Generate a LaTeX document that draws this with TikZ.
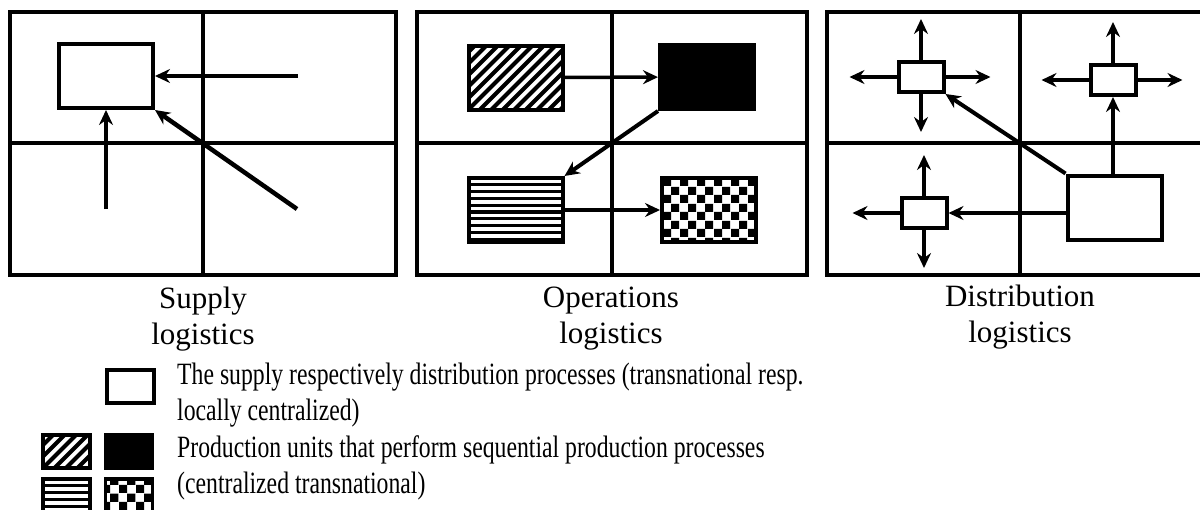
\documentclass[tikz,border=0pt]{standalone}
\usepackage{fontspec}
\setmainfont{Liberation Serif}
\newfontfamily\keyfont[FakeStretch=0.765]{Liberation Serif}
\usetikzlibrary{arrows.meta,positioning,patterns.meta}

\tikzdeclarepattern{
  name=checker,
  type=uncolored,
  bottom left={(0pt,0pt)},
  top right={(17pt,17pt)},
  tile size={(17pt,17pt)},
  code={
    \fill (0pt,0pt) rectangle (8.5pt,8.5pt);
    \fill (8.5pt,8.5pt) rectangle (17pt,17pt);
  }
}

\tikzset{
  frame/.style={line width=4pt},
  unit/.style={draw, line width=4pt, inner sep=0pt, minimum width=94pt, minimum height=64pt},
  hub/.style={draw, line width=4pt, inner sep=0pt, minimum width=45pt, minimum height=30pt},
  key/.style={draw, line width=3.5pt, inner sep=0pt, minimum width=47pt, minimum height=33pt},
  hatched/.style={path picture={
    \foreach \k in {-8,...,10}
      \draw[line width=4pt] ([xshift=\k*11.5pt]path picture bounding box.south west) -- +(110pt,110pt);}},
  striped/.style={path picture={
    \foreach \k in {0,...,12}
      \draw[line width=3.2pt] ([yshift=-\k*6.8pt]path picture bounding box.north west) -- +(120pt,0pt);}},
  checked/.style={pattern=checker},
  flow/.style={-{Stealth[length=15pt,width=14pt,inset=5pt]}, line width=3.5pt},
  caption/.style={anchor=north, inner sep=0pt, align=center},
  keytext/.style={anchor=north west, inner sep=0pt, align=left, font=\keyfont\fontsize{31}{36}\selectfont}
}

\begin{document}
\begin{tikzpicture}[x=1pt, y=-1pt, font=\fontsize{31}{36}\selectfont]
\useasboundingbox (0,0) rectangle (1200,509);
\clip (0,0) rectangle (1200,509);

% the three quartered panels
\foreach \x/\w in {10/386, 417/390, 827/386}
  \draw[frame] (\x,12) rectangle ++(\w,263) (\x+\w/2,12) -- ++(0,263) (\x,143) -- ++(\w,0);

% supply logistics
\node[unit] (sup) at (106,76) {};
\coordinate (supE) at (298,76);
\coordinate (supS) at (106,209);
\coordinate (supSE) at (297,209);
\draw[flow] (supE) -- (sup.east);
\draw[flow] (supS) -- (sup.south);
\draw[flow, line width=4.5pt] (supSE) -- (sup.south east);

% operations logistics
\node[unit, hatched] (opA) at (515.5,77.5) {};
\node[unit, fill=black] (opB) at (707,77) {};
\node[unit, striped] (opC) at (515.5,210) {};
\node[unit, checked] (opD) at (709,210) {};
\draw[flow] (opA) -- (opB);
\draw[flow, line width=4pt] (opB.south west) -- (opC.north east);
\draw[flow] (opC) -- (opD);

% distribution logistics
\node[unit] (dc) at (1114.5,207.5) {};
\node[hub] (tl) at (921,77) {};
\node[hub] (tr) at (1113,80) {};
\node[hub] (bl) at (924,213) {};
\coordinate[above=41pt of tl.north] (tlN);
\coordinate[below=38pt of tl.south] (tlS);
\coordinate[left=47pt of tl.west] (tlW);
\coordinate[right=45pt of tl.east] (tlE);
\coordinate[above=41pt of tr.north] (trN);
\coordinate[left=47pt of tr.west] (trW);
\coordinate[right=45pt of tr.east] (trE);
\coordinate[above=41pt of bl.north] (blN);
\coordinate[below=38pt of bl.south] (blS);
\coordinate[left=47pt of bl.west] (blW);
\foreach \a/\b in {tl.north/tlN, tl.south/tlS, tl.west/tlW, tl.east/tlE,
                   tr.north/trN, tr.west/trW, tr.east/trE,
                   bl.north/blN, bl.south/blS, bl.west/blW}
  \draw[flow] (\a) -- (\b);
\draw[flow] (tr.south |- dc.north) -- (tr.south);
\draw[flow] (dc.west |- bl.east) -- (bl.east);
\draw[flow, line width=4pt] (dc.north west) -- (tl.south east);

% captions
\node[caption] (capS) at (203,287) {Supply\\logistics};
\node[caption] (capO) at (611,287) {Operations\\logistics};
\node[caption] (capD) at (1020,285) {Distribution\\logistics};

% legend
\node[key] (keyA) at (130.5,386.5) {};
\node[key, hatched] (keyB) at (66.5,451.5) {};
\node[key, fill=black] (keyC) at (129,451.5) {};
\node[key, striped] (keyD) at (66.5,495.5) {};
\node[key, checked] (keyE) at (129,495.5) {};
\node[keytext] (keyTxtA) at (177,363) {The supply respectively distribution processes (transnational resp.\\locally centralized)};
\node[keytext] (keyTxtB) at (177,435) {Production units that perform sequential production processes\\(centralized transnational)};
\end{tikzpicture}
\end{document}
